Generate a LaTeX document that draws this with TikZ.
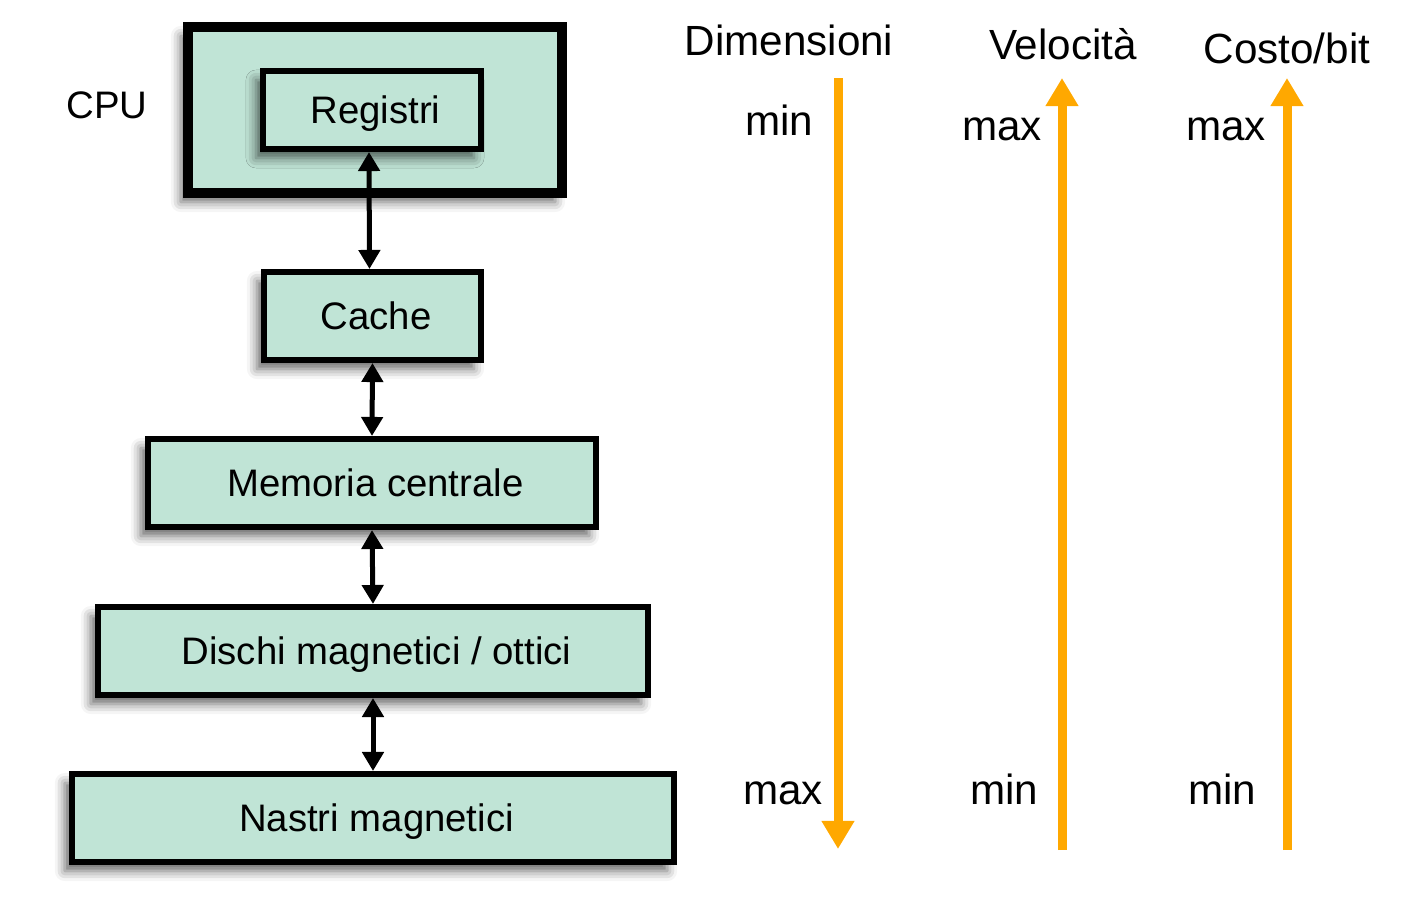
\documentclass[tikz,border=0pt]{standalone}
\usepackage{fontspec}
\setmainfont{Liberation Sans}
\usetikzlibrary{arrows.meta,shadows.blur}
\definecolor{boxfill}{RGB}{192,228,214}
\definecolor{barorange}{RGB}{255,168,0}
\tikzset{
  membox/.style={draw=black, fill=boxfill, line width=0.06cm, rectangle, inner sep=0pt,
    font=\fontsize{10.9}{13}\selectfont, text height=0.27cm, text depth=0cm,
    blur shadow={shadow xshift=-0.07cm, shadow yshift=-0.09cm, shadow blur radius=0.1cm, shadow opacity=60}},
  link/.style={line width=0.05cm, {Triangle[length=0.19cm,width=0.21cm]}-{Triangle[length=0.19cm,width=0.21cm]}},
  bar/.style={draw=barorange, line width=0.09cm, -{Triangle[length=0.28cm,width=0.31cm]}},
  hdr/.style={anchor=base, font=\fontsize{12}{14}\selectfont, inner sep=0pt},
  lbl/.style={anchor=base, font=\fontsize{12}{14}\selectfont, inner sep=0pt},
}
\newcommand{\tx}[1]{\hspace*{0.07cm}#1}
\begin{document}
\begin{tikzpicture}[x=0.01cm, y=-0.01cm]
\useasboundingbox (0,0) rectangle (1405,900);
\node[membox, line width=0.1cm, minimum width=3.74cm, minimum height=1.66cm] (cpu) at (375,110) {};
\node[membox, minimum width=2.18cm, minimum height=0.78cm] (reg) at (372,110) {\tx{Registri}};
\node[membox, minimum width=2.17cm, minimum height=0.88cm] (cache) at (372.5,316) {\tx{Cache}};
\node[membox, minimum width=4.48cm, minimum height=0.88cm] (mem) at (372,483) {\tx{Memoria centrale}};
\node[membox, minimum width=5.50cm, minimum height=0.88cm] (disk) at (373,651) {\tx{Dischi magnetici / ottici}};
\node[membox, minimum width=6.02cm, minimum height=0.88cm] (tape) at (373,818) {\tx{Nastri magnetici}};
\node[anchor=base, inner sep=0pt, font=\fontsize{10.9}{13}\selectfont] (cpulbl) at (107,118) {CPU};
\draw[link] ([xshift=-0.03cm]reg.south) -- ([xshift=-0.03cm]cache.north);
\draw[link] (cache.south) -- (mem.north);
\draw[link] (mem.south) -- (disk.north);
\draw[link] (disk.south) -- (tape.north);
\node[hdr] (h1) at (789,55) {Dimensioni};
\node[hdr] (h2) at (1063,60) {Velocità};
\node[hdr] (h3) at (1287,64) {Costo/bit};
\node[lbl] (t1) at (779,136) {min};
\node[lbl] (t2) at (1002,140) {max};
\node[lbl] (t3) at (1226,140) {max};
\node[lbl] (b1) at (783,804) {max};
\node[lbl] (b2) at (1004,804) {min};
\node[lbl] (b3) at (1222,804) {min};
\coordinate (d1) at (838,78);
\coordinate (d2) at (838,849);
\coordinate (v1) at (1062,850);
\coordinate (v2) at (1062,78);
\coordinate (c1) at (1287,850);
\coordinate (c2) at (1287,78);
\draw[bar] (d1) -- (d2);
\draw[bar] (v1) -- (v2);
\draw[bar] (c1) -- (c2);
\end{tikzpicture}
\end{document}
